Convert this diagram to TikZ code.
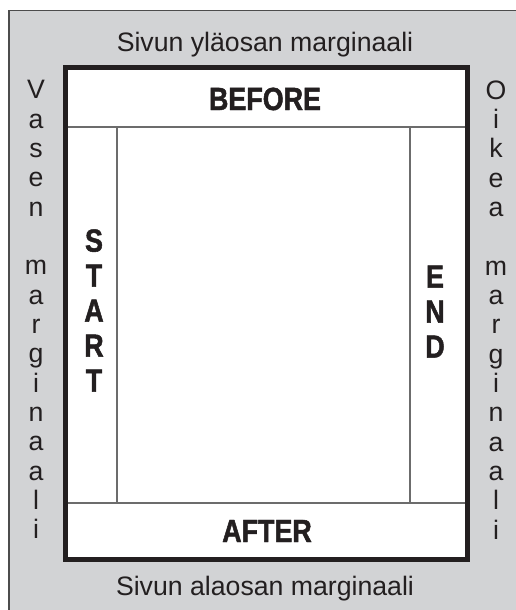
\documentclass[tikz,border=0pt]{standalone}
\usepackage{fontspec}
\setmainfont{Liberation Sans}
\newfontfamily\bandfont[FakeStretch=0.84, FakeBold=1.5]{Liberation Sans}
\definecolor{margingray}{HTML}{D2D3D5}
\definecolor{inkblack}{HTML}{231F20}

\begin{document}
\begin{tikzpicture}[x=0.75pt, y=-0.75pt,
    margintext/.style={font=\fontsize{20}{22}\selectfont, text=inkblack, inner sep=0pt},
    sidetext/.style={margintext, align=center},
    bandtext/.style={font=\bandfont\bfseries\fontsize{24}{26.25}\selectfont, text=inkblack, inner sep=0pt, align=center}]
        % --- 1. Parameters ---
        \def\frameL{65.5}
        \def\frameR{467.5}
        \def\frameT{67.5}
        \def\frameB{559.5}
        \def\colL{117}
        \def\colR{410}
        \def\rowT{127}
        \def\rowB{503}

        \useasboundingbox (0,0) rectangle (516,610);

        % --- 2. Page (margins) ---
        \fill[margingray] (9,10.5) rectangle (530,625);
        \draw[gray!60!black, line width=1pt] (9,625) -- (9,10.5) -- (530,10.5);

        % --- 3. Text area ---
        \fill[white] (\frameL,\frameT) rectangle (\frameR,\frameB);
        \draw[gray!85!black, line width=1pt] (\frameL,\rowT) -- (\frameR,\rowT);
        \draw[gray!85!black, line width=1pt] (\frameL,\rowB) -- (\frameR,\rowB);
        \draw[gray!85!black, line width=1pt] (\colL,\rowT) -- (\colL,\rowB);
        \draw[gray!85!black, line width=1pt] (\colR,\rowT) -- (\colR,\rowB);
        \draw[inkblack, line width=3.75pt] (\frameL,\frameT) rectangle (\frameR,\frameB);

        % --- 4. Band labels ---
        \node[bandtext, anchor=base] (before) at (265,110) {BEFORE};
        \node[bandtext, anchor=base] (after) at (267,542) {AFTER};
        \node[bandtext] (start) at (94,310.5) {S\\T\\A\\R\\T};
        \node[bandtext] (end) at (435,311.5) {E\\N\\D};

        % --- 5. Margin labels ---
        \node[margintext, anchor=base] (topmarg) at (265,52) {Sivun yläosan marginaali};
        \node[margintext, anchor=base] (botmarg) at (265,595) {Sivun alaosan marginaali};
        \node[sidetext] (leftmarg) at (36,309.5) {V\\a\\s\\e\\n\\~\\m\\a\\r\\g\\i\\n\\a\\a\\l\\i};
        \node[sidetext] (rightmarg) at (496,310) {O\\i\\k\\e\\a\\~\\m\\a\\r\\g\\i\\n\\a\\a\\l\\i};
\end{tikzpicture}
\end{document}
